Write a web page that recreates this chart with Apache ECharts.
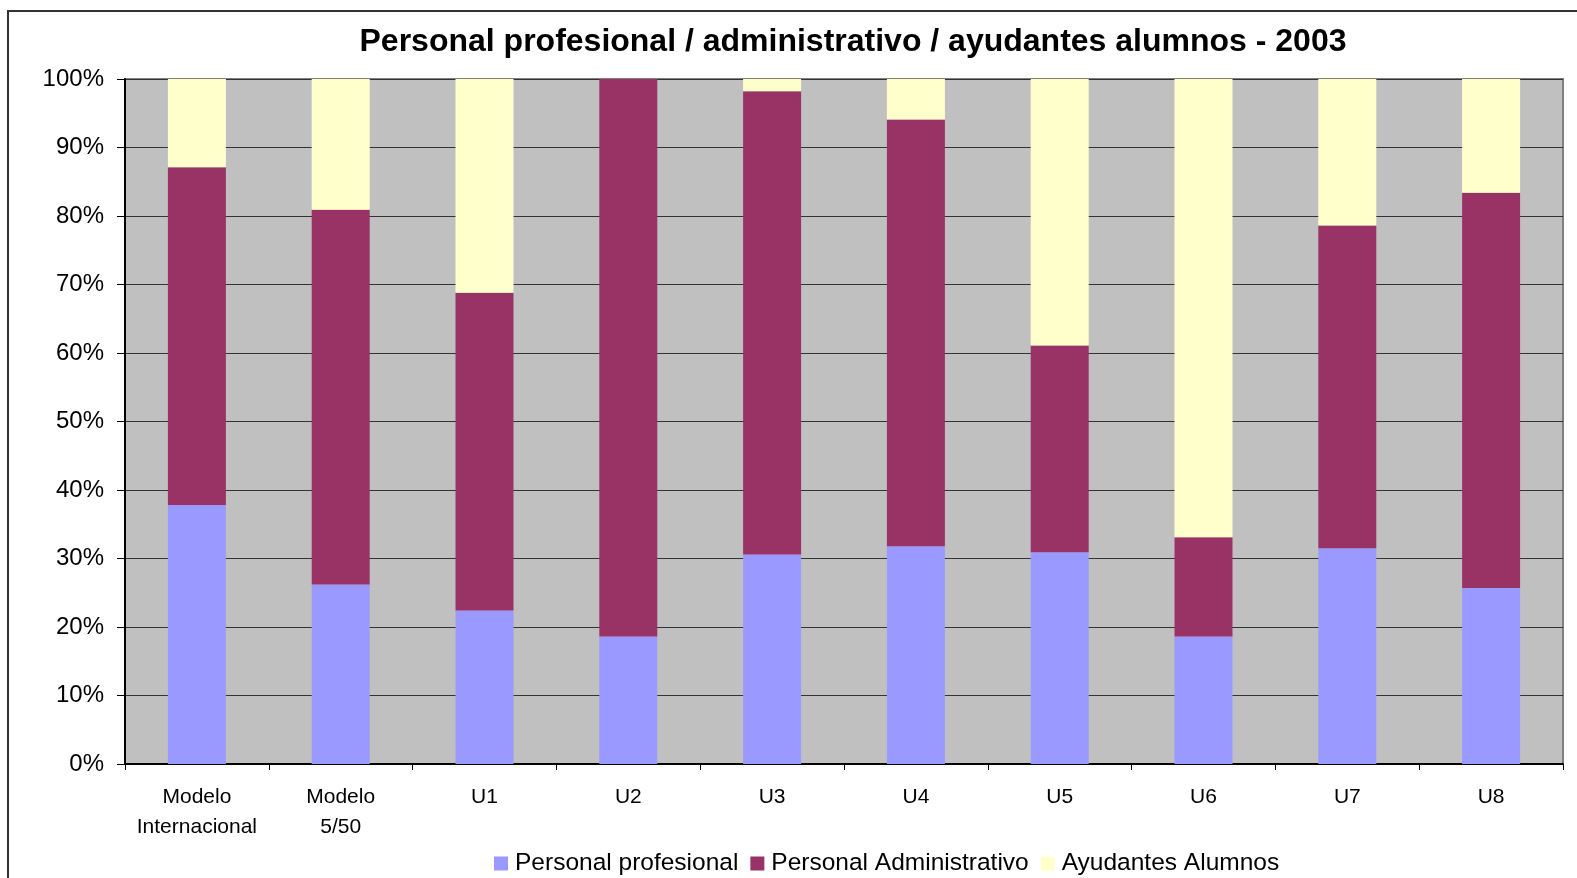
<!DOCTYPE html>
<html>
<head>
<meta charset="utf-8">
<script src="https://cdn.jsdelivr.net/npm/echarts@6/dist/echarts.min.js"></script>
<style>
  html, body { margin: 0; padding: 0; background: #fff; }
  #chart { width: 1577px; height: 878px; }
</style>
</head>
<body>
<div id="chart"></div>
<script>
// categorias y valores (%)
const categories = ['Modelo\nInternacional', 'Modelo\n5/50', 'U1', 'U2', 'U3', 'U4', 'U5', 'U6', 'U7', 'U8'];
const profesional = [37.8, 26.2, 22.4, 18.6, 30.6, 31.8, 30.9, 18.6, 31.5, 25.7];
const administrativo = [49.3, 54.7, 46.4, 81.4, 67.6, 62.3, 30.2, 14.5, 47.1, 57.7];
const ayudantes = [12.9, 19.1, 31.2, 0, 1.8, 5.9, 38.9, 66.9, 21.4, 16.6];
const yTicks = ['0%', '10%', '20%', '30%', '40%', '50%', '60%', '70%', '80%', '90%', '100%'];

const chart = echarts.init(document.getElementById('chart'));

const barSeries = (name, data, color) => ({
    name: name,
    type: 'bar',
    stack: 'total',
    data: data,
    barWidth: 58,
    itemStyle: { color: color },
    emphasis: { disabled: true }
});

chart.setOption({
    backgroundColor: '#fff',
    animation: false,
    textStyle: { fontFamily: 'Liberation Sans, Arial, sans-serif' },
    title: {
        text: 'Personal profesional / administrativo / ayudantes alumnos - 2003',
        left: 848,
        textAlign: 'center',
        top: 21,
        textStyle: { fontSize: 32, fontWeight: 'bold', color: '#000' }
    },
    // borde exterior del grafico
    graphic: [{
        type: 'rect',
        shape: { x: 8, y: 11, width: 1620, height: 920 },
        style: { fill: null, stroke: '#333', lineWidth: 2 },
        z: -1
    }],
    legend: {
        bottom: -3,
        left: 489,
        itemWidth: 14,
        itemHeight: 14,
        itemGap: 12,
        icon: 'rect',
        textStyle: { fontSize: 24.5, color: '#000', padding: [0, 0, 0, 2] },
        data: ['Personal profesional', 'Personal Administrativo', 'Ayudantes Alumnos']
    },
    grid: {
        left: 125,
        right: 14,
        top: 79,
        bottom: 114,
        show: true,
        backgroundColor: '#C0C0C0',
        borderColor: '#808080',
        borderWidth: 2
    },
    xAxis: {
        type: 'category',
        data: categories,
        axisLine: { lineStyle: { color: '#000', width: 2 } },
        axisTick: { show: true, length: 6, lineStyle: { color: '#000' } },
        axisLabel: { fontSize: 21, color: '#000', margin: 18, lineHeight: 30, interval: 0 }
    },
    yAxis: {
        type: 'value',
        min: 0,
        max: 100,
        interval: 10,
        axisLine: { show: true, lineStyle: { color: '#000', width: 2 } },
        axisTick: { show: true, length: 8, lineStyle: { color: '#000' } },
        axisLabel: {
            fontSize: 24,
            color: '#000',
            margin: 21,
            formatter: v => yTicks[Math.round(v / 10)]
        },
        splitLine: { show: true, lineStyle: { color: '#333', width: 1 } }
    },
    series: [
        barSeries('Personal profesional', profesional, '#9999FF'),
        barSeries('Personal Administrativo', administrativo, '#993366'),
        barSeries('Ayudantes Alumnos', ayudantes, '#FFFFCC')
    ]
});
</script>
</body>
</html>
